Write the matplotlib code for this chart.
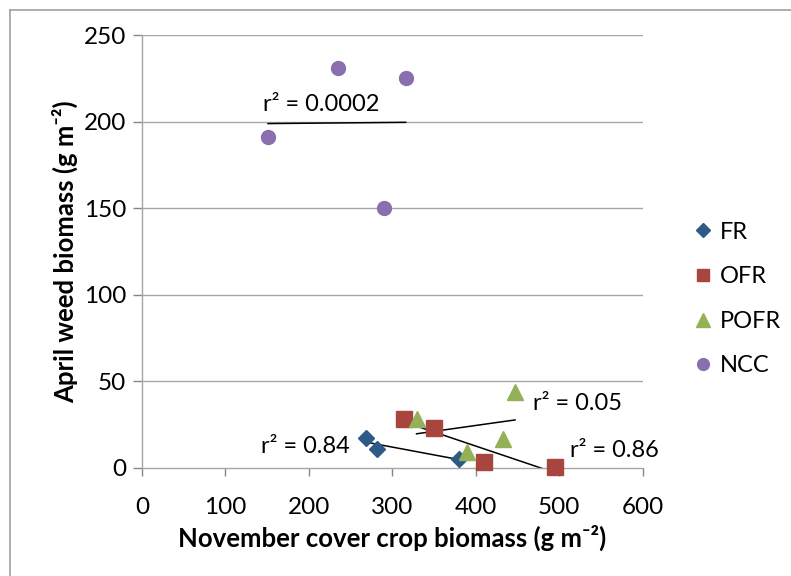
import numpy as np
import matplotlib.pyplot as plt
from matplotlib.lines import Line2D

plt.rcParams['font.family'] = ['Lato', 'DejaVu Sans']

# data (g m-2)
fr_x = [268, 282, 380]
fr_y = [17, 11, 5]
ofr_x = [314, 350, 410, 495]
ofr_y = [28, 23, 3.5, 0.5]
pofr_x = [329, 389, 433, 447]
pofr_y = [28, 9, 16.5, 44]
ncc_x = [151, 235, 316, 290]
ncc_y = [191, 231, 225, 150]

# r2 values as printed on the chart
r2_labels = {'FR': '0.84', 'OFR': '0.86', 'POFR': '0.05', 'NCC': '0.0002'}

x_ticks = [0, 100, 200, 300, 400, 500, 600]
y_ticks = [0, 50, 100, 150, 200, 250]

series = [
    ('FR', fr_x, fr_y, 'D', '#2E5A88', 8.0),
    ('OFR', ofr_x, ofr_y, 's', '#A8453F', 11.0),
    ('POFR', pofr_x, pofr_y, '^', '#93B157', 11.5),
    ('NCC', ncc_x, ncc_y, 'o', '#8A6FAE', 10.0),
]
# r2 label anchors (data coords)
r2_pos = {'FR': (143, 12), 'OFR': (513, 10), 'POFR': (468, 37), 'NCC': (145, 210)}

fig = plt.figure(figsize=(7.91, 5.76), dpi=100)
ax = fig.add_axes([142/791, 1-467.7/576, (642.7-142)/791, (467.7-35)/576])

grid_c = '#A6A6A6'
for y in y_ticks[1:]:
    ax.axhline(y, color=grid_c, lw=1.0, zorder=0)

handles = []
for name, xs, ys, m, c, ms in series:
    xs = np.array(xs, float)
    ys = np.array(ys, float)
    k, b = np.polyfit(xs, ys, 1)
    xl = np.array([xs.min(), xs.max()])
    ax.plot(xl, k*xl + b, color='black', lw=1.1, zorder=2)
    ax.plot(xs, ys, ls='none', marker=m, ms=ms, color=c, mec=c, zorder=3, clip_on=False)
    handles.append(Line2D([], [], ls='none', marker=m, ms=ms*0.85, color=c, mec=c))
    tx, ty = r2_pos[name]
    ax.text(tx, ty, 'r² = ' + r2_labels[name], fontsize=17, ha='left', va='center', zorder=4)

ax.set_xlim(0, 600)
ax.set_ylim(0, 250)
ax.set_xticks(x_ticks)
ax.set_yticks(y_ticks)
ax.tick_params(axis='both', labelsize=17.5, color='#868686', width=1.0, direction='out')
ax.tick_params(axis='y', length=6.5, pad=5)
ax.tick_params(axis='x', length=6, pad=15)
for s in ['top', 'right']:
    ax.spines[s].set_visible(False)
for s in ['left', 'bottom']:
    ax.spines[s].set_color(grid_c)
    ax.spines[s].set_linewidth(1.0)

ax.set_xlabel('November cover crop biomass (g m⁻²)', fontsize=18.5, fontweight='bold', labelpad=5)
ax.set_ylabel('April weed biomass (g m⁻²)', fontsize=18.5, fontweight='bold', labelpad=4)

fig.legend(handles, [s[0] for s in series], loc='center left',
           bbox_to_anchor=(682/791, 1-299/576), frameon=False, fontsize=17,
           handlelength=0.8, handletextpad=0.3, labelspacing=1.0, borderpad=0)

# outer chart border (top and left edges visible)
fig.add_artist(Line2D([10/791, 1], [1-10/576, 1-10/576], color='#A0A0A0', lw=1.2))
fig.add_artist(Line2D([10/791, 10/791], [0, 1-10/576], color='#A0A0A0', lw=1.2))

fig.savefig('out.png', dpi=100)
